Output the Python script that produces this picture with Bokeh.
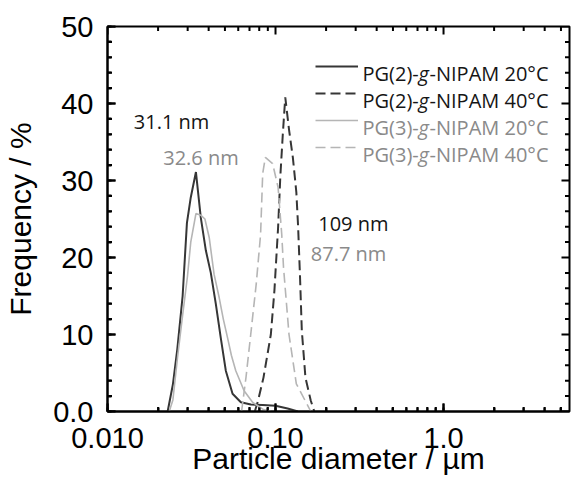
from bokeh.plotting import figure
from bokeh.models import (Range1d, SingleIntervalTicker, LogTicker, Legend, LegendItem)
from bokeh.core.properties import value
from bokeh.embed import file_html
from bokeh.resources import INLINE

# ---------------- data ----------------
pg2_20_x = [0.0228, 0.0245, 0.0260, 0.0280, 0.0297, 0.0313, 0.0336, 0.0359, 0.0385, 0.0412,
            0.0441, 0.0472, 0.0506, 0.0555, 0.0622, 0.0713, 0.0840, 0.100, 0.118, 0.136]
pg2_20_y = [0.0, 3.5, 8.0, 15.0, 24.5, 27.8, 31.1, 25.2, 20.9, 18.0,
            14.0, 9.6, 5.3, 2.3, 1.2, 0.9, 0.85, 0.75, 0.4, 0.0]

pg2_40_x = [0.0753, 0.0787, 0.0848, 0.0938, 0.0985, 0.1036, 0.1068, 0.1105, 0.1143, 0.1205,
            0.1268, 0.1330, 0.1363, 0.1399, 0.1434, 0.1507, 0.1622, 0.1702]
pg2_40_y = [0.0, 1.4, 4.4, 10.0, 15.7, 23.9, 30.5, 36.0, 40.8, 36.5,
            33.0, 28.5, 24.0, 17.5, 10.5, 4.4, 1.4, 0.0]

pg3_20_x = [0.0233, 0.0245, 0.0261, 0.0280, 0.0299, 0.0313, 0.0336, 0.0359, 0.0380, 0.0403,
            0.0431, 0.0462, 0.0489, 0.0518, 0.0546, 0.0580, 0.0650, 0.0730, 0.0840, 0.0938]
pg3_20_y = [0.0, 1.5, 7.0, 12.5, 17.5, 22.0, 25.7, 25.5, 25.0, 22.6,
            17.8, 14.8, 12.0, 9.6, 7.3, 5.3, 2.7, 1.2, 0.3, 0.0]

pg3_40_x = [0.0628, 0.0667, 0.0712, 0.0768, 0.0815, 0.0839, 0.0870, 0.0961, 0.1036, 0.1089,
            0.1116, 0.1203, 0.1330, 0.1622]
pg3_40_y = [0.0, 4.4, 10.0, 16.6, 23.0, 30.9, 33.0, 32.2, 29.1, 23.0,
            18.7, 10.0, 3.6, 0.0]

# legend label pieces: (before, italic part, after)
legend_pre = ["PG(2)-", "PG(2)-", "PG(3)-", "PG(3)-"]
legend_ital = ["g", "g", "g", "g"]
legend_post = ["-NIPAM 20°C", "-NIPAM 40°C", "-NIPAM 20°C", "-NIPAM 40°C"]

# peak annotations
ann_texts = ["31.1 nm", "32.6 nm", "109 nm", "87.7 nm"]
ann_x = [0.01434, 0.02146, 0.1796, 0.1622]
ann_y = [37.65, 32.97, 24.43, 20.5]

# axes
x_start, x_end = 0.01, 5.62
y_start, y_end = 0.0, 50.0
x_tick_values = [0.01, 0.1, 1.0]
x_tick_labels = ["0.010", "0.10", "1.0"]
x_minor_values = [k * 10.0 ** e for e in (-2, -1, 0) for k in range(2, 10) if k * 10.0 ** e < x_end]
y_tick_values = [0, 10, 20, 30, 40, 50]
y_tick_labels = ["0.0", "10", "20", "30", "40", "50"]
y_minor_values = [v for v in range(2, 50, 2) if v % 10]

x_title = "Particle diameter / µm"
y_title = "Frequency / %"

# ---------------- styles / layout constants ----------------
DARK = "#363636"
LIGHT = "#b5b5b5"
TXT_DARK = "#151515"
TXT_GRAY = "#8a8a8a"
AXIS_FONT = "Liberation Sans"
NOTE_FONT = "Open Sans"
PX_PER_DECADE = 168.0      # frame width per decade on the x axis
PX_PER_Y = 384.0 / 50.0    # frame height per y unit
MAJOR_LEN, MINOR_LEN = 8.0, 4.5


def xfac(px):
    return 10.0 ** (px / PX_PER_DECADE)


p = figure(width=572, height=483, x_axis_type="log",
           x_range=Range1d(x_start, x_end), y_range=Range1d(y_start, y_end),
           output_backend="svg", toolbar_location=None,
           min_border_left=107, min_border_right=3, min_border_top=26, min_border_bottom=72)
p.grid.visible = False
p.outline_line_color = "black"
p.outline_line_width = 2

xa = p.xaxis[0]
xa.ticker = LogTicker(num_minor_ticks=10)
xa.major_label_overrides = {v: s for v, s in zip(x_tick_values, x_tick_labels)}
ya = p.yaxis[0]
ya.ticker = SingleIntervalTicker(interval=10, num_minor_ticks=5)
ya.major_label_overrides = {v: s for v, s in zip(y_tick_values, y_tick_labels)}
for ax in (xa, ya):
    ax.axis_line_color = "black"
    ax.axis_line_width = 2
    ax.major_tick_line_color = "black"
    ax.major_tick_line_width = 2
    ax.minor_tick_line_color = "black"
    ax.minor_tick_line_width = 2
    ax.major_tick_in = int(MAJOR_LEN)
    ax.major_tick_out = 0
    ax.minor_tick_in = 4
    ax.minor_tick_out = 0
    ax.major_label_text_font = AXIS_FONT
    ax.major_label_text_font_size = "29px"
    ax.major_label_text_color = "black"
    ax.axis_label_text_font = AXIS_FONT
    ax.axis_label_text_font_size = "30px"
    ax.axis_label_text_font_style = "normal"
    ax.axis_label_text_color = "black"
xa.major_label_standoff = 16
xa.axis_label = x_title
xa.axis_label_standoff = -9
ya.major_label_standoff = 14
ya.axis_label = y_title
ya.axis_label_standoff = 13

# ---------------- inward tick marks on the four frame sides ----------------
for vals, L in ((x_tick_values, MAJOR_LEN), (x_minor_values, MINOR_LEN)):
    n = len(vals)
    p.segment(x0=vals, y0=[y_start] * n, x1=vals, y1=[y_start + L / PX_PER_Y] * n,
              line_color="black", line_width=2)
    p.segment(x0=vals, y0=[y_end] * n, x1=vals, y1=[y_end - L / PX_PER_Y] * n,
              line_color="black", line_width=2)
for vals, L in ((y_tick_values, MAJOR_LEN), (y_minor_values, MINOR_LEN)):
    n = len(vals)
    p.segment(x0=[x_start] * n, y0=vals, x1=[x_start * xfac(L)] * n, y1=vals,
              line_color="black", line_width=2)
    p.segment(x0=[x_end] * n, y0=vals, x1=[x_end / xfac(L)] * n, y1=vals,
              line_color="black", line_width=2)

# ---------------- curves ----------------
r1 = p.line(pg2_20_x, pg2_20_y, line_color=DARK, line_width=2)
r2 = p.line(pg2_40_x, pg2_40_y, line_color=DARK, line_width=2, line_dash="10 5")
r3 = p.line(pg3_20_x, pg3_20_y, line_color=LIGHT, line_width=1.6)
r4 = p.line(pg3_40_x, pg3_40_y, line_color=LIGHT, line_width=1.6, line_dash="10 5")

# ---------------- legend samples ----------------
legend = Legend(items=[LegendItem(label="", renderers=[r]) for r in (r1, r2, r3, r4)],
                location=(208, 254), glyph_width=43, glyph_height=20, label_height=20,
                label_width=0, label_standoff=0, spacing=7, padding=0, margin=0,
                border_line_color=None, background_fill_alpha=0,
                label_text_font_size="1px")
p.add_layout(legend, "center")

# ---------------- legend text (mixed upright / italic), as text glyphs ----------------
row_cols = [TXT_DARK, TXT_DARK, TXT_GRAY, TXT_GRAY]
row_y = [(337 - 27 * i) / PX_PER_Y for i in range(4)]      # baselines above frame bottom
x_pre = x_start * xfac(255)
x_ital = x_start * xfac(255 + 56)
x_post = x_start * xfac(255 + 67)
txt_common = dict(text_font=value(NOTE_FONT), text_font_size="20px",
                  text_baseline="alphabetic", text_align="left")
p.text(x=[x_pre] * 4, y=row_y, text=legend_pre, text_color=row_cols, **txt_common)
p.text(x=[x_ital] * 4, y=row_y, text=legend_ital, text_color=row_cols,
       text_font_style="italic", **txt_common)
p.text(x=[x_post] * 4, y=row_y, text=legend_post, text_color=row_cols, **txt_common)

# ---------------- peak annotations ----------------
ann_cols = [TXT_DARK, TXT_GRAY, TXT_DARK, TXT_GRAY]
p.text(x=ann_x, y=ann_y, text=ann_texts, text_color=ann_cols, **txt_common)

open("out.html", "w").write(file_html(p, INLINE))
